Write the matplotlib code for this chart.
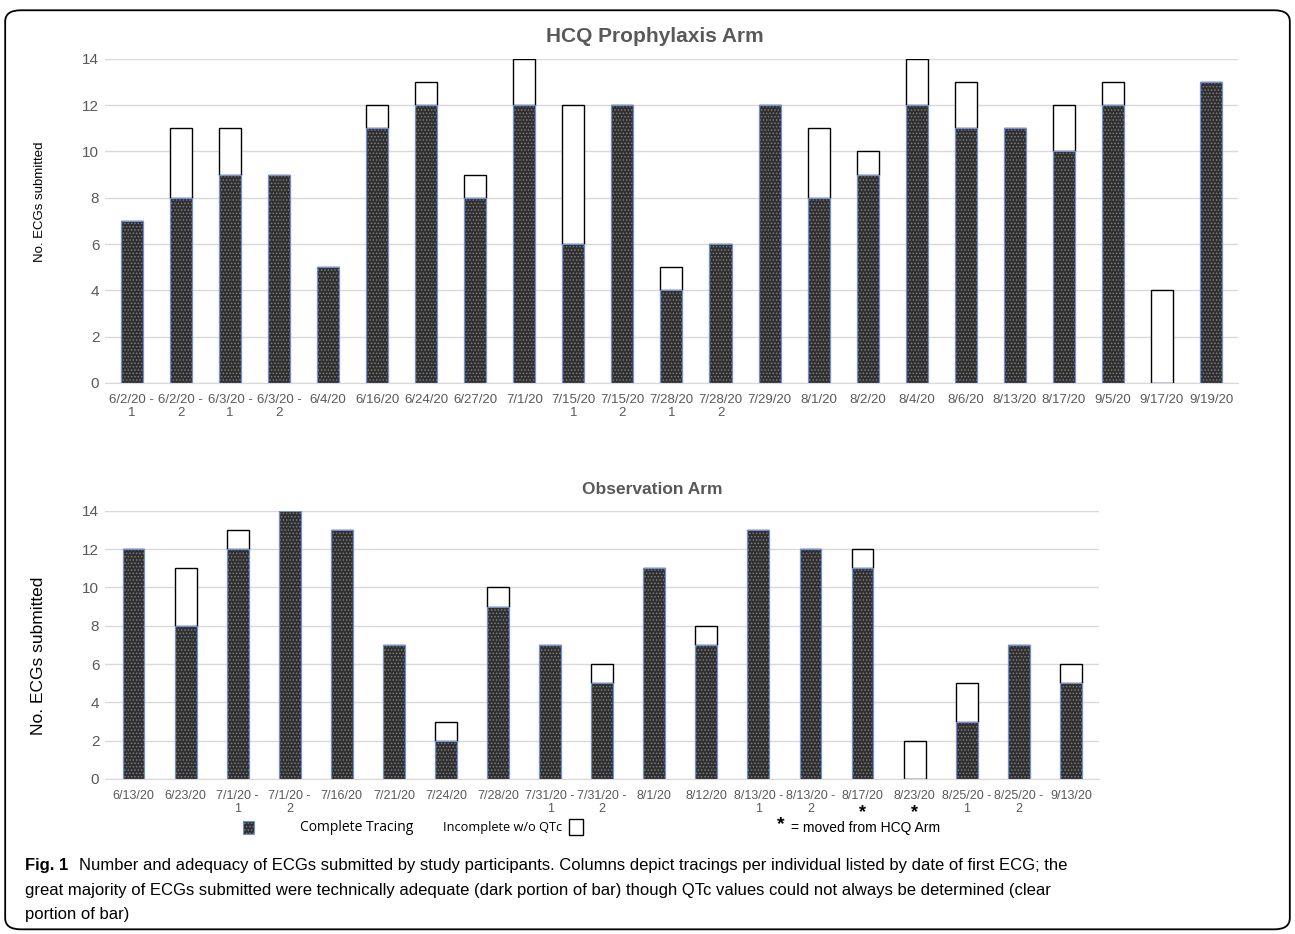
import numpy as np
import matplotlib.pyplot as plt
from matplotlib.patches import FancyBboxPatch, Rectangle
from matplotlib.transforms import blended_transform_factory

# HCQ prophylaxis arm
hcq_labels = ["6/2/20 -\n1", "6/2/20 -\n2", "6/3/20 -\n1", "6/3/20 -\n2", "6/4/20",
              "6/16/20", "6/24/20", "6/27/20", "7/1/20", "7/15/20\n1", "7/15/20\n2",
              "7/28/20\n1", "7/28/20\n2", "7/29/20", "8/1/20", "8/2/20", "8/4/20",
              "8/6/20", "8/13/20", "8/17/20", "9/5/20", "9/17/20", "9/19/20"]
hcq_complete = [7, 8, 9, 9, 5, 11, 12, 8, 12, 6, 12, 4, 6, 12, 8, 9, 12, 11, 11, 10, 12, 0, 13]
hcq_incomplete = [0, 3, 2, 0, 0, 1, 1, 1, 2, 6, 0, 1, 0, 0, 3, 1, 2, 2, 0, 2, 1, 4, 0]

# Observation arm
obs_labels = ["6/13/20", "6/23/20", "7/1/20 -\n1", "7/1/20 -\n2", "7/16/20", "7/21/20",
              "7/24/20", "7/28/20", "7/31/20 -\n1", "7/31/20 -\n2", "8/1/20", "8/12/20",
              "8/13/20 -\n1", "8/13/20 -\n2", "8/17/20", "8/23/20", "8/25/20 -\n1",
              "8/25/20 -\n2", "9/13/20"]
obs_complete = [12, 8, 12, 14, 13, 7, 2, 9, 7, 5, 11, 7, 13, 12, 11, 0, 3, 7, 5]
obs_incomplete = [0, 3, 1, 0, 0, 0, 1, 1, 0, 1, 0, 1, 0, 0, 1, 2, 2, 0, 1]
obs_starred = ["8/17/20", "8/23/20"]

plt.rcParams['hatch.linewidth'] = 0.7
plt.rcParams['font.family'] = ['Liberation Sans', 'DejaVu Sans']

fig = plt.figure(figsize=(12.95, 9.34), dpi=100)

# rounded frame around the whole figure
fig.patches.append(FancyBboxPatch((0.004, 0.005), 0.992, 0.984,
                                  boxstyle="round,pad=0,rounding_size=0.012",
                                  transform=fig.transFigure, facecolor='none',
                                  edgecolor='black', linewidth=1.3))

grey = '#595959'
dark = '#2f2f2f'
dots = '#7c7c7c'
blue_edge = '#6f8fd6'


def draw_arm(ax, labels, complete, incomplete, title, width, title_size, ylab_size, tick_size):
    x = np.arange(len(labels))
    # dotted dark fill, then the thin blue outline on top
    ax.bar(x, complete, width=width, color=dark, edgecolor=dots, linewidth=0,
           hatch='.....', zorder=3)
    ax.bar(x, complete, width=width, fill=False, edgecolor=blue_edge, linewidth=0.9, zorder=4)
    ax.bar(x, incomplete, width=width, bottom=complete, color='white',
           edgecolor='black', linewidth=1.0, zorder=3)
    ax.set_ylim(0, 14)
    ax.set_xlim(-0.55, len(labels) - 0.45)
    ax.set_yticks(range(0, 15, 2))
    ax.set_xticks(x)
    ax.set_xticklabels(labels, fontsize=tick_size, color=grey, linespacing=1.15)
    ax.tick_params(axis='y', labelsize=11, colors=grey, length=0, pad=4)
    ax.tick_params(axis='x', length=0, pad=8)
    ax.grid(axis='y', color='#d9d9d9', linewidth=1, zorder=0)
    for s in ['top', 'right', 'left']:
        ax.spines[s].set_visible(False)
    ax.spines['bottom'].set_color('#d9d9d9')
    ax.set_title(title, fontsize=title_size, fontweight='bold', color=grey, pad=12)
    ax.set_ylabel('No. ECGs submitted', fontsize=ylab_size)


ax1 = fig.add_axes([0.081, 0.590, 0.875, 0.347])
draw_arm(ax1, hcq_labels, hcq_complete, hcq_incomplete, 'HCQ Prophylaxis Arm',
         0.45, 15, 9.5, 9.5)
ax1.title.set_position((0.485, 1.0))
ax1.yaxis.set_label_coords(-0.052, 0.56)

ax2 = fig.add_axes([0.081, 0.166, 0.768, 0.287])
draw_arm(ax2, obs_labels, obs_complete, obs_incomplete, 'Observation Arm',
         0.42, 12.5, 12.5, 9)
ax2.title.set_position((0.55, 1.0))
ax2.yaxis.set_label_coords(-0.059, 0.46)

# stars under the participants moved from the HCQ arm
trans = blended_transform_factory(ax2.transData, ax2.transAxes)
for lab in obs_starred:
    i = obs_labels.index(lab)
    ax2.text(i, -0.125, '*', transform=trans, ha='center', va='center',
             fontsize=13, fontweight='bold')

# legend row
fig.patches.append(Rectangle((0.1875, 0.107), 0.009, 0.014, transform=fig.transFigure,
                             facecolor=dark, edgecolor=dots, hatch='.....', lw=0))
fig.patches.append(Rectangle((0.1875, 0.107), 0.009, 0.014, transform=fig.transFigure,
                             fill=False, edgecolor=blue_edge, lw=0.8))
fig.text(0.232, 0.114, 'Complete Tracing', fontsize=10, va='center',
         family=['Open Sans', 'DejaVu Sans'])
fig.text(0.342, 0.114, 'Incomplete w/o QTc', fontsize=9.2, va='center',
         family=['Open Sans', 'DejaVu Sans'])
fig.patches.append(Rectangle((0.439, 0.106), 0.011, 0.017, transform=fig.transFigure,
                             facecolor='white', edgecolor='black', lw=1.0))
fig.text(0.600, 0.117, '*', fontsize=14, fontweight='bold', va='center', ha='left')
fig.text(0.611, 0.114, '= moved from HCQ Arm', fontsize=10, va='center')

# caption
cap_font = ['Liberation Sans Narrow', 'Liberation Sans', 'DejaVu Sans']
fig.text(0.019, 0.073, 'Fig. 1', fontsize=12, fontweight='bold', va='center', family=cap_font)
fig.text(0.061, 0.073, 'Number and adequacy of ECGs submitted by study participants. '
         'Columns depict tracings per individual listed by date of first ECG; the',
         fontsize=12, va='center', family=cap_font)
fig.text(0.019, 0.047, 'great majority of ECGs submitted were technically adequate (dark '
         'portion of bar) though QTc values could not always be determined (clear',
         fontsize=12, va='center', family=cap_font)
fig.text(0.019, 0.021, 'portion of bar)', fontsize=12, va='center', family=cap_font)

fig.savefig('out.png', dpi=100)
